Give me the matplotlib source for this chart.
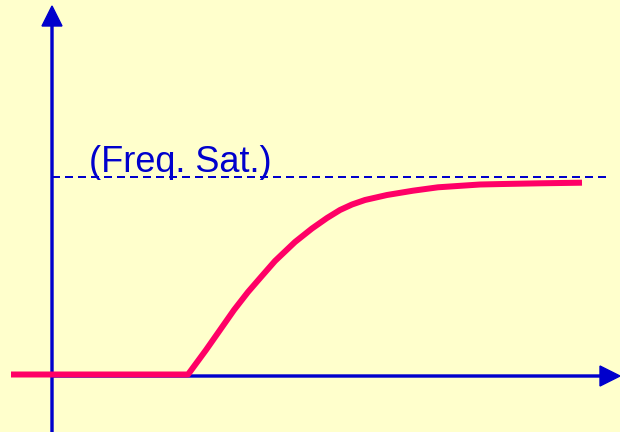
import matplotlib
matplotlib.use('Agg')
import matplotlib.pyplot as plt

# Frequency response: flat, then a rise that levels off at saturation
time = [-41, 136, 154, 168, 182, 196, 209, 223, 243, 260, 275, 288, 300,
        313, 335, 361, 386, 428, 451, 488, 530]
freq = [1.5, 1.5, 26, 46, 66, 84, 99, 115, 134, 147.5, 158, 166, 171.5,
        176, 181, 185.3, 188.7, 191.5, 192, 192.7, 193.3]
freq_sat = 199
sat_label = '(Freq. Sat.)'

bg = '#FFFFCC'
blue = '#0000CC'
red = '#FF0066'

fig = plt.figure(figsize=(6.2, 4.32), dpi=100, facecolor=bg)
ax = fig.add_axes([0, 0, 1, 1])
ax.set_facecolor(bg)
ax.set_xlim(-52, 568)
ax.set_ylim(-56, 376)
ax.axis('off')

# Axes with arrow heads
ax.arrow(0, -56, 0, 426, width=2, head_width=20, head_length=20,
         length_includes_head=True, color=blue, zorder=2)
ax.arrow(0, 0, 568, 0, width=2, head_width=20, head_length=20,
         length_includes_head=True, color=blue, zorder=2)

# Saturation level
ax.hlines(freq_sat, 0, 558, colors=blue, linewidth=1.44,
          linestyles=(0, (4, 2.5)), zorder=2)
ax.text(37, freq_sat + 5, sat_label, color=blue, fontsize=26,
        family='Liberation Sans', va='baseline', ha='left', zorder=3)

ax.plot(time, freq, color=red, linewidth=4.32, solid_capstyle='butt',
        solid_joinstyle='round', zorder=4)

fig.savefig('out.png', dpi=100, facecolor=bg)
